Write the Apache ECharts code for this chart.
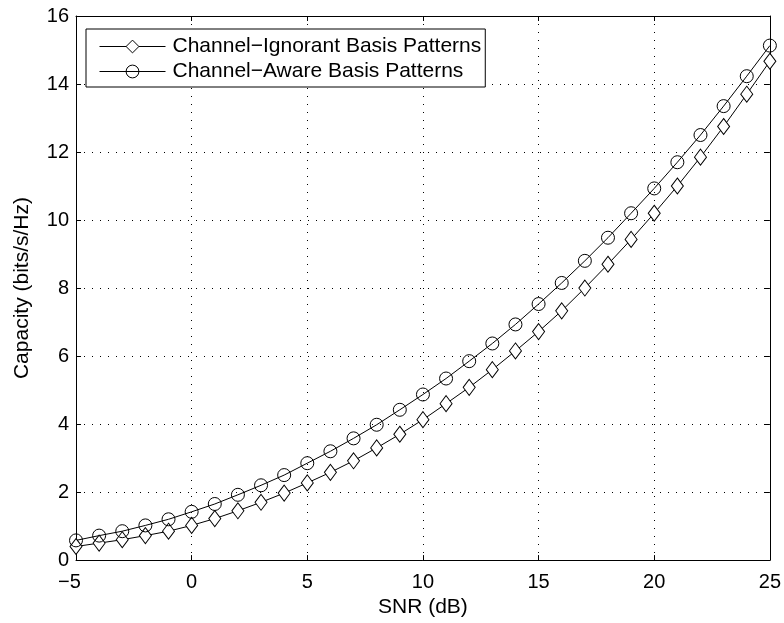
<!DOCTYPE html>
<html><head><meta charset="utf-8">
<script src="https://cdn.jsdelivr.net/npm/echarts@6/dist/echarts.min.js"></script>
<style>html,body{margin:0;padding:0;background:#fff}#c{width:784px;height:623px}</style>
</head><body><div id="c"></div>
<script>
const snr = [-5,-4,-3,-2,-1,0,1,2,3,4,5,6,7,8,9,10,11,12,13,14,15,16,17,18,19,20,21,22,23,24,25];
const ignorant = [0.40,0.50,0.60,0.72,0.85,1.02,1.22,1.45,1.70,1.97,2.27,2.58,2.92,3.30,3.70,4.13,4.60,5.08,5.60,6.15,6.72,7.33,8.00,8.70,9.43,10.20,11.00,11.85,12.75,13.70,14.67];
const aware = [0.58,0.72,0.85,1.02,1.20,1.42,1.65,1.92,2.20,2.50,2.85,3.20,3.58,3.98,4.42,4.87,5.34,5.85,6.37,6.93,7.53,8.15,8.80,9.48,10.20,10.93,11.70,12.50,13.35,14.23,15.13];
const seriesNames = ['Channel\u2212Ignorant Basis Patterns','Channel\u2212Aware Basis Patterns'];
const xLabel = 'SNR (dB)';
const yLabel = 'Capacity (bits/s/Hz)';

const font = 'Liberation Sans, Arial, Helvetica, sans-serif';
const chart = echarts.init(document.getElementById('c'), null, {renderer:'canvas'});
const pair = a => a.map((v,i)=>[snr[i], v]);
const gridLine = {show:true, lineStyle:{color:'#000', type:[1,7], width:1}};
const tickLabel = {color:'#000', fontFamily:font, fontSize:20};
chart.setOption({
  animation:false,
  backgroundColor:'#fff',
  grid:{left:76, top:16, width:695, height:548, containLabel:false},
  legend:{
    orient:'vertical', left:86, top:29,
    backgroundColor:'#fff', borderColor:'#000', borderWidth:1,
    padding:[7,4,5,13], itemGap:4, itemWidth:66, itemHeight:16,
    lineStyle:{width:1, color:'#000'},
    itemStyle:{borderWidth:1, borderColor:'#000'},
    textStyle:{fontFamily:font, fontSize:21, color:'#000', padding:[0,0,0,2], lineHeight:21},
    data:seriesNames
  },
  xAxis:[{
    type:'value', min:-5, max:25, interval:5, position:'bottom',
    axisLine:{onZero:false, lineStyle:{color:'#000', width:1}},
    axisTick:{inside:true, length:5, lineStyle:{color:'#000'}},
    axisLabel:Object.assign({margin:12,
      formatter: v => v < 0 ? '{neg|\u2212' + Math.abs(v) + '}' : String(v),
      rich:{neg:{color:'#000', fontFamily:font, fontSize:20, padding:[0,13,0,0]}}
    }, tickLabel),
    splitLine:gridLine,
    name:xLabel, nameLocation:'middle', nameGap:36,
    nameTextStyle:{color:'#000', fontFamily:font, fontSize:21}
  },{
    type:'value', min:-5, max:25, interval:5, position:'top',
    axisLine:{onZero:false, lineStyle:{color:'#000', width:1}},
    axisTick:{inside:true, length:5, lineStyle:{color:'#000'}},
    axisLabel:{show:false}, splitLine:{show:false}
  }],
  yAxis:[{
    type:'value', min:0, max:16, interval:2, position:'left',
    axisLine:{show:true, onZero:false, lineStyle:{color:'#000', width:1}},
    axisTick:{show:true, inside:true, length:5, lineStyle:{color:'#000'}},
    axisLabel:Object.assign({margin:7}, tickLabel),
    splitLine:gridLine,
    name:yLabel, nameLocation:'middle', nameGap:43,
    nameTextStyle:{color:'#000', fontFamily:font, fontSize:21}
  },{
    type:'value', min:0, max:16, interval:2, position:'right',
    axisLine:{show:true, onZero:false, lineStyle:{color:'#000', width:1}},
    axisTick:{show:true, inside:true, length:5, lineStyle:{color:'#000'}},
    axisLabel:{show:false}, splitLine:{show:false}
  }],
  series:[{
    name:seriesNames[0], type:'line', data:pair(ignorant),
    symbol:'diamond', symbolSize:[12,16],
    itemStyle:{color:'#fff', borderColor:'#000', borderWidth:1},
    lineStyle:{color:'#000', width:1}, z:3
  },{
    name:seriesNames[1], type:'line', data:pair(aware),
    symbol:'circle', symbolSize:13,
    itemStyle:{color:'rgba(255,255,255,0)', borderColor:'#000', borderWidth:1},
    lineStyle:{color:'#000', width:1}, z:3
  }]
});
</script></body></html>
